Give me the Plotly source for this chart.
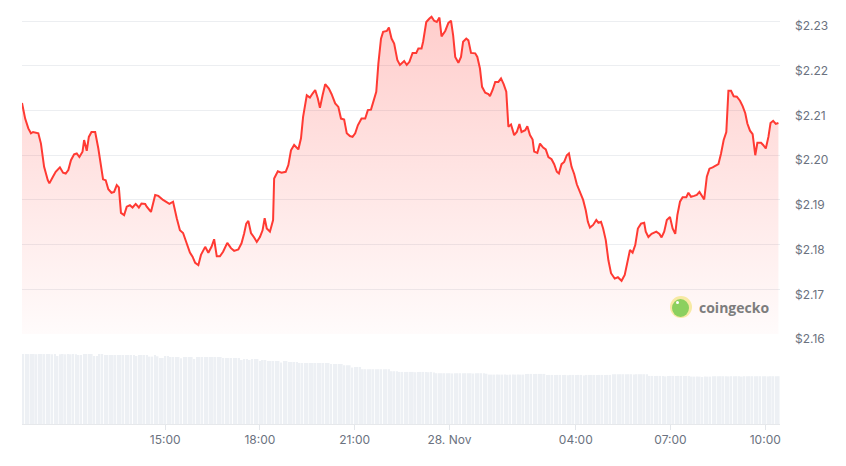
import pandas as pd
import plotly.graph_objects as go

# ---------------- data ----------------
start_time = "2024-11-27 10:28"
end_time = "2024-11-28 10:28"

# minutes after start_time at which price was read
price_minutes = [
    0, 6, 12, 17, 21, 31, 36, 42, 49, 52, 58, 64, 72, 78, 83, 88, 93, 99, 104, 109,
    115, 118, 123, 127, 132, 139, 145, 150, 154, 159, 164, 170, 175, 180, 184, 188, 194, 199, 205, 210,
    216, 222, 227, 234, 237, 245, 253, 259, 268, 280, 287, 294, 300, 306, 313, 319, 324, 329, 335, 340,
    348, 354, 360, 365, 370, 376, 382, 390, 397, 403, 411, 417, 422, 426, 430, 435, 441, 446, 452, 457,
    461, 465, 471, 477, 479, 486, 493, 501, 506, 511, 517, 525, 530, 534, 541, 547, 552, 557, 562, 566,
    571, 576, 583, 588, 595, 601, 606, 612, 617, 623, 628, 633, 638, 645, 652, 657, 663, 667, 673, 677,
    682, 686, 693, 697, 702, 707, 713, 718, 726, 731, 736, 742, 749, 753, 759, 762, 768, 774, 778, 783,
    788, 793, 797, 804, 810, 815, 819, 823, 829, 834, 838, 844, 848, 853, 861, 865, 870, 874, 880, 886,
    889, 894, 899, 905, 910, 915, 920, 924, 929, 935, 940, 945, 949, 956, 960, 965, 970, 973, 979, 984,
    990, 995, 1000, 1006, 1011, 1016, 1020, 1025, 1030, 1035, 1039, 1044, 1049, 1054, 1060, 1066, 1071, 1075, 1079, 1085,
    1091, 1095, 1100, 1104, 1109, 1114, 1119, 1126, 1132, 1139, 1145, 1149, 1155, 1160, 1165, 1170, 1176, 1182, 1185, 1190,
    1196, 1205, 1211, 1215, 1220, 1225, 1231, 1236, 1241, 1245, 1250, 1255, 1262, 1266, 1271, 1277, 1282, 1287, 1291, 1296,
    1301, 1306, 1312, 1319, 1323, 1328, 1333, 1338, 1342, 1347, 1352, 1358, 1364, 1369, 1374, 1378, 1383, 1388, 1393, 1397,
    1404, 1408, 1413, 1418, 1422, 1427, 1432, 1437,
]

prices = [
    2.2117, 2.2082, 2.2060, 2.2049, 2.2052, 2.2049, 2.2026, 2.1974, 2.1944, 2.1937,
    2.1950, 2.1963, 2.1973, 2.1961, 2.1959, 2.1967, 2.1989, 2.2002, 2.2004, 2.1996,
    2.2008, 2.2034, 2.2010, 2.2041, 2.2052, 2.2052, 2.2015, 2.1974, 2.1946, 2.1944,
    2.1924, 2.1916, 2.1918, 2.1933, 2.1928, 2.1871, 2.1866, 2.1885, 2.1888, 2.1883,
    2.1891, 2.1883, 2.1892, 2.1891, 2.1885, 2.1873, 2.1911, 2.1909, 2.1900, 2.1891,
    2.1896, 2.1859, 2.1832, 2.1826, 2.1803, 2.1782, 2.1773, 2.1759, 2.1754, 2.1777,
    2.1795, 2.1782, 2.1795, 2.1812, 2.1774, 2.1774, 2.1784, 2.1804, 2.1792, 2.1786,
    2.1789, 2.1803, 2.1825, 2.1847, 2.1853, 2.1826, 2.1816, 2.1806, 2.1817, 2.1832,
    2.1859, 2.1836, 2.1829, 2.1855, 2.1948, 2.1964, 2.1961, 2.1963, 2.1978, 2.2011,
    2.2023, 2.2013, 2.2038, 2.2086, 2.2134, 2.2129, 2.2138, 2.2146, 2.2127, 2.2106,
    2.2134, 2.2159, 2.2149, 2.2137, 2.2116, 2.2108, 2.2082, 2.2080, 2.2049, 2.2043,
    2.2041, 2.2049, 2.2067, 2.2082, 2.2082, 2.2101, 2.2102, 2.2119, 2.2142, 2.2205,
    2.2261, 2.2276, 2.2278, 2.2286, 2.2261, 2.2250, 2.2213, 2.2202, 2.2211, 2.2202,
    2.2209, 2.2229, 2.2229, 2.2239, 2.2239, 2.2254, 2.2298, 2.2306, 2.2310, 2.2301,
    2.2298, 2.2308, 2.2266, 2.2278, 2.2296, 2.2301, 2.2269, 2.2220, 2.2207, 2.2220,
    2.2254, 2.2261, 2.2257, 2.2229, 2.2228, 2.2220, 2.2194, 2.2153, 2.2140, 2.2137,
    2.2132, 2.2146, 2.2164, 2.2164, 2.2172, 2.2159, 2.2142, 2.2064, 2.2069, 2.2045,
    2.2052, 2.2070, 2.2052, 2.2056, 2.2065, 2.2045, 2.2035, 2.2008, 2.2005, 2.2026,
    2.2017, 2.2013, 2.1996, 2.1991, 2.1980, 2.1963, 2.1959, 2.1980, 2.1985, 2.2000,
    2.2004, 2.1974, 2.1958, 2.1935, 2.1918, 2.1900, 2.1877, 2.1851, 2.1838, 2.1844,
    2.1855, 2.1849, 2.1851, 2.1836, 2.1810, 2.1765, 2.1736, 2.1724, 2.1727, 2.1719,
    2.1732, 2.1758, 2.1788, 2.1782, 2.1799, 2.1836, 2.1847, 2.1849, 2.1829, 2.1817,
    2.1824, 2.1829, 2.1824, 2.1816, 2.1829, 2.1855, 2.1862, 2.1836, 2.1824, 2.1866,
    2.1896, 2.1906, 2.1906, 2.1916, 2.1907, 2.1909, 2.1911, 2.1918, 2.1909, 2.1901,
    2.1952, 2.1970, 2.1973, 2.1978, 2.1980, 2.2004, 2.2034, 2.2052, 2.2144, 2.2144,
    2.2132, 2.2131, 2.2122, 2.2110, 2.2094, 2.2071, 2.2055, 2.2047, 2.2000, 2.2028,
    2.2028, 2.2023, 2.2015, 2.2041, 2.2072, 2.2077, 2.2070, 2.2072,
]

# 24h volume (USD millions), one value per 5-minute bar
volume_musd = [
    703, 703, 702, 703, 703, 701, 703, 703, 702, 703, 703, 700,
    703, 683, 700, 703, 700, 703, 700, 703, 700, 693, 693, 703,
    703, 703, 703, 683, 683, 703, 703, 693, 693, 693, 693, 693,
    693, 693, 693, 693, 693, 693, 693, 683, 693, 693, 693, 693,
    677, 677, 693, 680, 663, 663, 683, 683, 673, 673, 673, 673,
    660, 673, 673, 673, 673, 653, 673, 673, 673, 673, 673, 673,
    673, 673, 673, 673, 663, 663, 663, 663, 663, 663, 663, 643,
    653, 653, 643, 653, 653, 653, 633, 643, 643, 633, 633, 633,
    633, 633, 617, 633, 633, 623, 623, 623, 623, 613, 613, 613,
    613, 613, 613, 613, 613, 613, 613, 613, 613, 603, 603, 603,
    603, 603, 590, 590, 590, 567, 573, 573, 573, 550, 550, 550,
    550, 550, 550, 550, 550, 550, 550, 550, 530, 530, 530, 523,
    523, 523, 523, 523, 523, 520, 523, 523, 523, 523, 520, 523,
    518, 510, 510, 510, 510, 510, 510, 508, 510, 510, 510, 510,
    510, 510, 510, 507, 510, 510, 510, 510, 505, 496, 496, 496,
    496, 496, 496, 496, 494, 496, 496, 496, 496, 496, 496, 503,
    503, 503, 503, 503, 503, 503, 503, 493, 493, 493, 493, 493,
    493, 493, 493, 490, 493, 493, 493, 493, 493, 488, 493, 493,
    493, 493, 493, 493, 493, 493, 493, 493, 500, 500, 500, 500,
    500, 500, 500, 500, 498, 500, 500, 500, 500, 500, 483, 483,
    483, 483, 483, 483, 478, 483, 483, 483, 483, 483, 483, 483,
    483, 483, 476, 476, 476, 476, 472, 476, 476, 476, 480, 480,
    480, 480, 480, 480, 478, 480, 480, 480, 480, 476, 480, 480,
    480, 480, 480, 480, 480, 480, 480, 478, 480, 480, 480, 480,
]

tick_times = [
    "2024-11-27 15:00", "2024-11-27 18:00", "2024-11-27 21:00", "2024-11-28 00:00",
    "2024-11-28 04:00", "2024-11-28 07:00", "2024-11-28 10:00",
]
tick_labels = ["15:00", "18:00", "21:00", "28. Nov", "04:00", "07:00", "10:00"]
price_ticks = [2.16, 2.17, 2.18, 2.19, 2.20, 2.21, 2.22, 2.23]
price_tick_labels = ["$2.16", "$2.17", "$2.18", "$2.19", "$2.20", "$2.21", "$2.22", "$2.23"]
price_axis_max = 2.2316

assert len(price_minutes) == len(prices)

# ---------------- figure ----------------
t0 = pd.Timestamp(start_time)
price_times = t0 + pd.to_timedelta(price_minutes, unit="m")
vol_times = pd.date_range(t0, periods=len(volume_musd), freq="5min")

LINE = "#ff3a33"
FONT = "Inter, 'Open Sans', sans-serif"
TICK_COLOR = "#6b7280"

fig = go.Figure()

fig.add_trace(go.Bar(
    x=vol_times, y=volume_musd, xaxis="x", yaxis="y2",
    marker=dict(color="#edf0f4", line=dict(width=0)),
    xperiod=300000, xperiodalignment="middle", xperiod0=t0,
    hoverinfo="skip", showlegend=False,
))

fig.add_trace(go.Scatter(
    x=price_times, y=prices, xaxis="x", yaxis="y",
    mode="lines", line=dict(color=LINE, width=2),
    fill="tozeroy",
    fillgradient=dict(
        type="vertical", start=price_ticks[0], stop=max(prices),
        colorscale=[[0, "rgba(255,58,51,0.02)"], [1, "rgba(255,58,51,0.25)"]],
    ),
    showlegend=False,
))

W, H = 846, 466
ML, MR, MT, MB = 22, 66, 14, 42
plot_h = H - MT - MB
plot_w = W - ML - MR
price_bottom_px = 334
vol_top_px = 354


def py(px_y):
    return (H - MB - px_y) / plot_h


def px(px_x):
    return (px_x - ML) / plot_w


fig.update_layout(
    width=W, height=H,
    margin=dict(l=ML, r=MR, t=MT, b=MB),
    paper_bgcolor="white", plot_bgcolor="white",
    bargap=0.35,
    showlegend=False,
    xaxis=dict(
        type="date", range=[start_time, end_time], anchor="y2", domain=[0, 1],
        tickvals=tick_times, ticktext=tick_labels,
        ticks="outside", ticklen=5, tickcolor="#e3e6ea",
        showline=True, linecolor="#e6e8eb", linewidth=1,
        showgrid=False, zeroline=False,
        tickfont=dict(family=FONT, size=12, color=TICK_COLOR),
    ),
    yaxis=dict(
        domain=[py(price_bottom_px), 1], range=[price_ticks[0], price_axis_max],
        anchor="x", side="right",
        tickmode="array", tickvals=price_ticks, ticktext=price_tick_labels,
        showgrid=True, gridcolor="#eceef1", gridwidth=1,
        zeroline=False, showline=False, ticks="",
        ticklabelstandoff=14, ticklabelshift=5,
        tickfont=dict(family=FONT, size=12, color=TICK_COLOR),
    ),
    yaxis2=dict(
        domain=[0, py(vol_top_px)], range=[0, max(volume_musd)],
        anchor="x", visible=False, showgrid=False, zeroline=False,
    ),
    shapes=[
        dict(type="circle", xref="paper", yref="paper",
             x0=px(670), x1=px(692), y0=py(318), y1=py(296),
             fillcolor="#f7e9a3", line=dict(width=0), layer="above"),
        dict(type="circle", xref="paper", yref="paper",
             x0=px(672), x1=px(689), y0=py(317), y1=py(299),
             fillcolor="#8bd05f", line=dict(width=0), layer="above"),
        dict(type="circle", xref="paper", yref="paper",
             x0=px(676), x1=px(679), y0=py(304), y1=py(301),
             fillcolor="#ffffff", line=dict(width=0), layer="above"),
    ],
    annotations=[
        dict(text="<b>coingecko</b>", xref="paper", yref="paper",
             x=px(697), y=py(307), xanchor="left", yanchor="middle",
             showarrow=False,
             font=dict(family="'Open Sans', Inter, sans-serif", size=14, color="#7d7d7d")),
    ],
)

fig.write_html(
    "out.html",
    config={"displayModeBar": False},
    post_script="document.body.style.margin='0';document.body.style.padding='0';",
)
